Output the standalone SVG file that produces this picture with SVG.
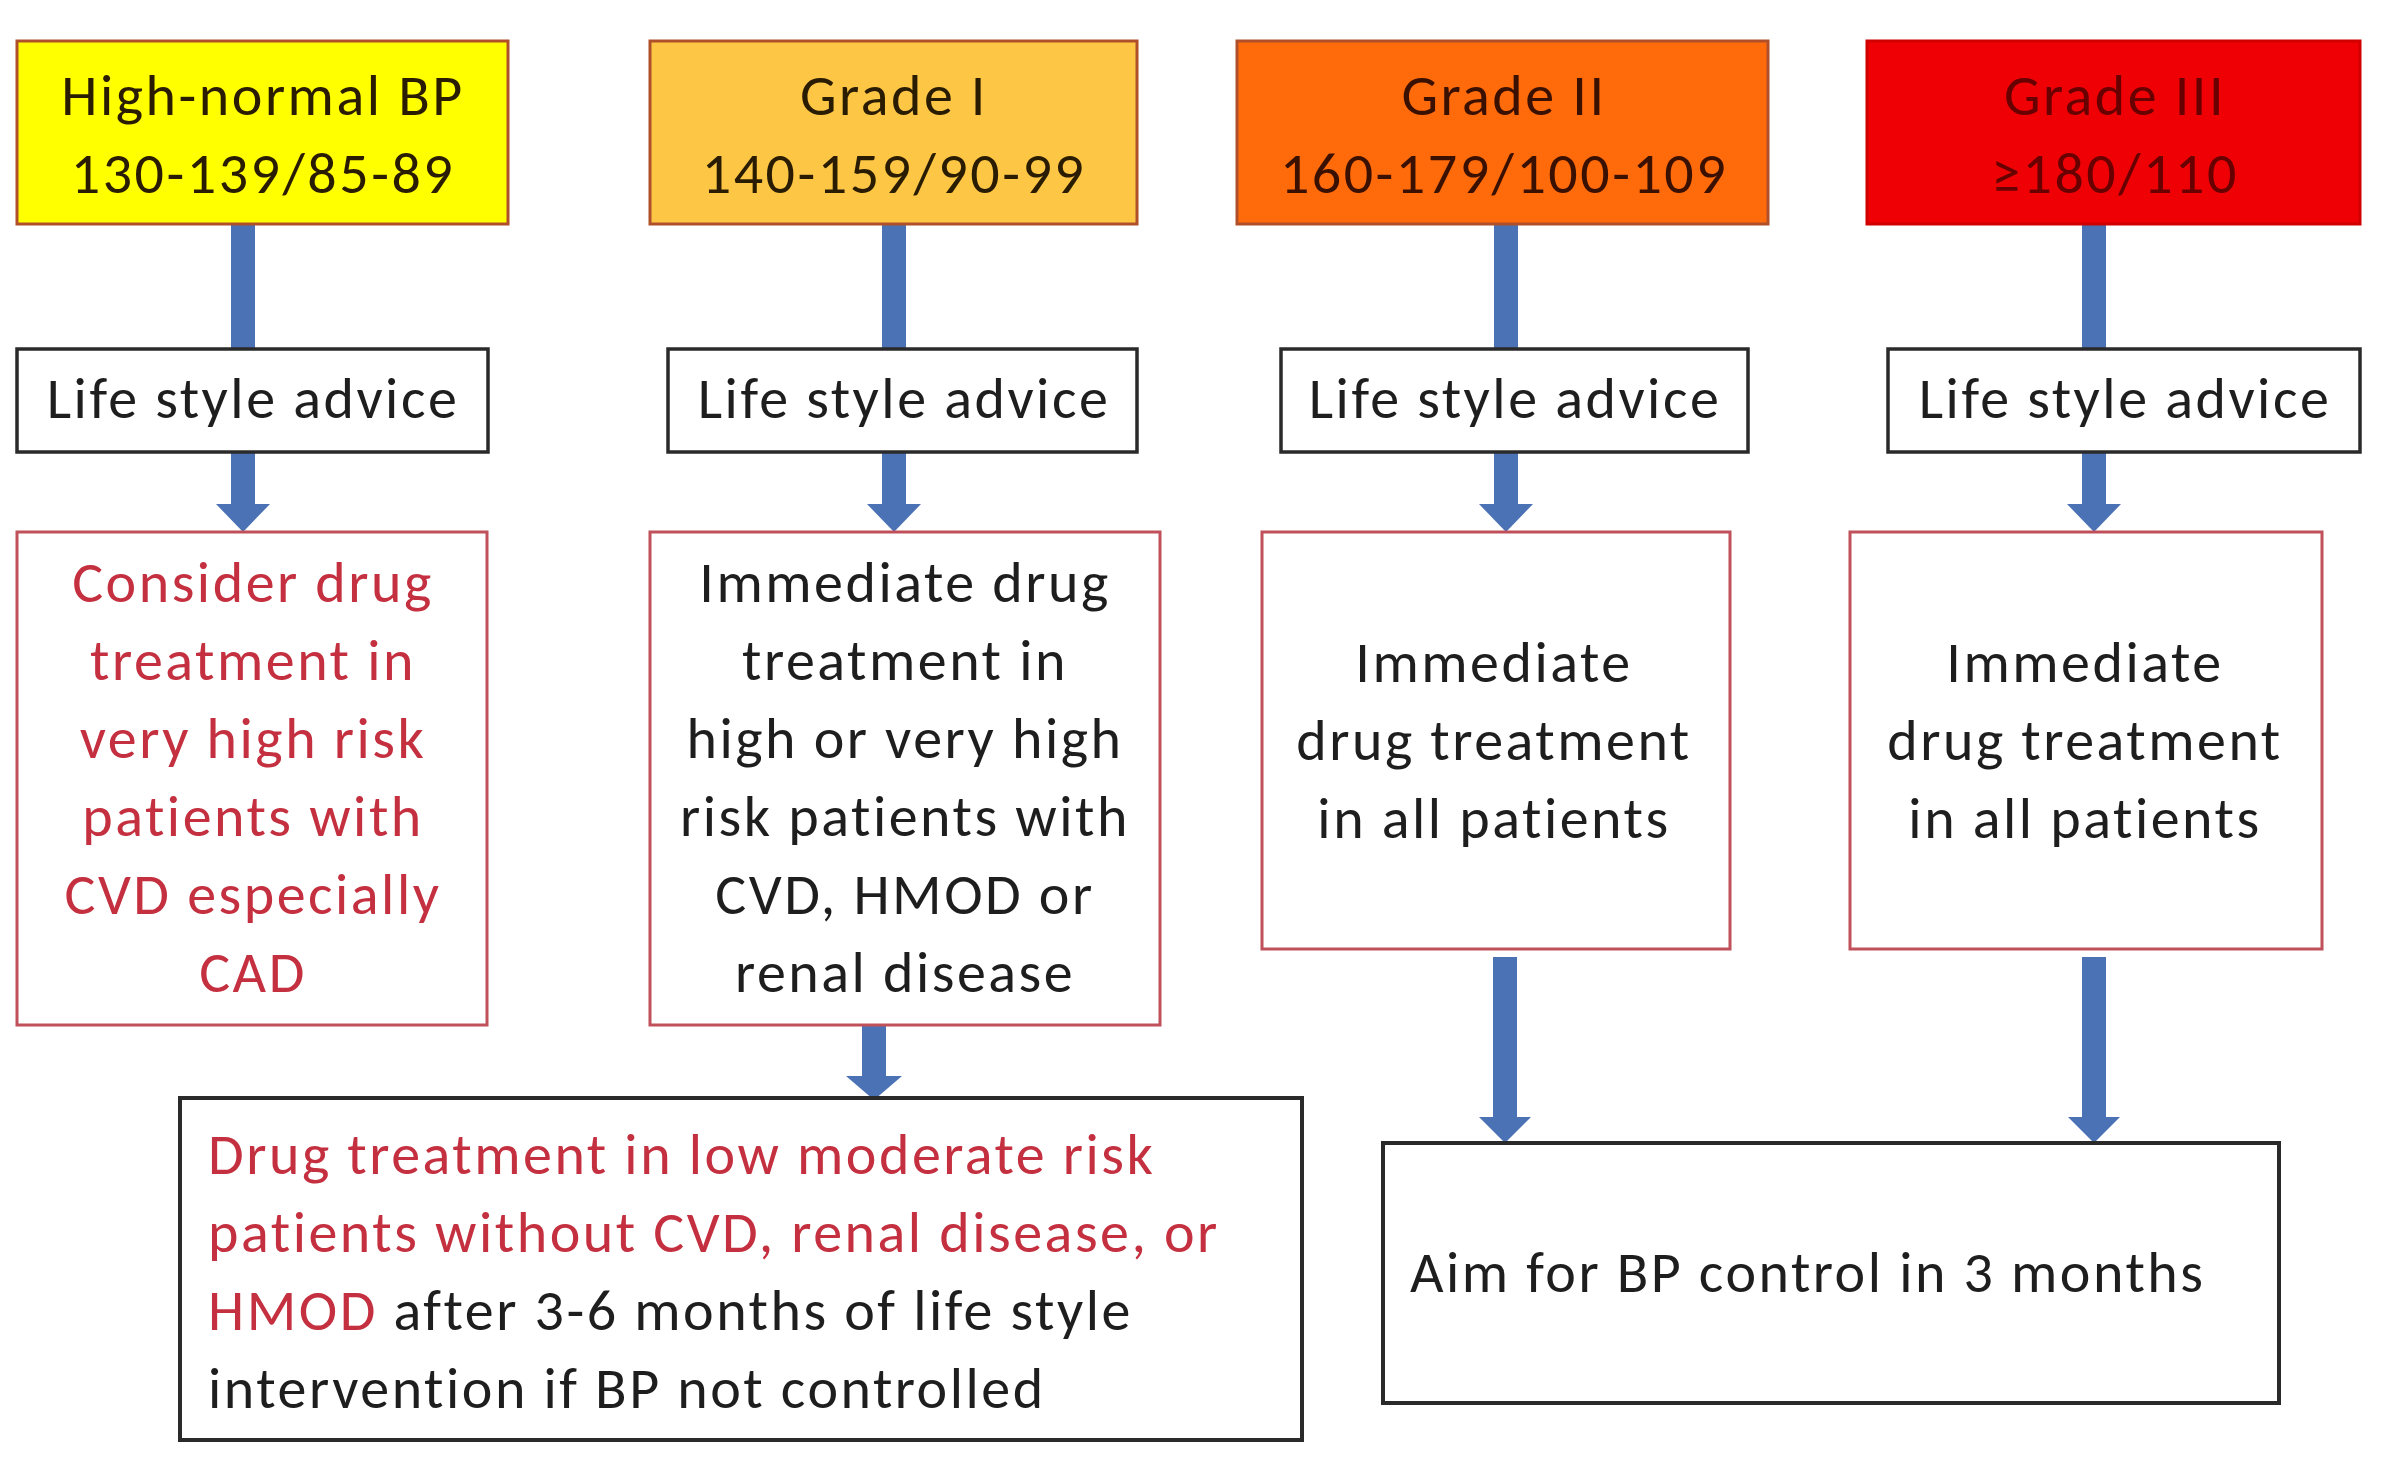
<svg xmlns="http://www.w3.org/2000/svg" width="2392" height="1460" viewBox="0 0 2392 1460">
<style>
text{font-family:Carlito,Lato,"Liberation Sans",sans-serif;font-size:58px;letter-spacing:2.5px;}
.c{text-anchor:middle;}
.dk{fill:#1e1e1e;}
.rd{fill:#C4303F;}
.top{stroke:#B0502A;stroke-width:3;}
.life{fill:#fff;stroke:#2a2a2a;stroke-width:3.5;}
.rbox{fill:#fff;stroke:#C0505A;stroke-width:3;}
.bbox{fill:#fff;stroke:#2a2a2a;stroke-width:4;}
.arr{fill:#4A72B5;}
</style>
<rect width="2392" height="1460" fill="#fff"/>
<g id="connectors">
<rect class="arr" x="231" y="224" width="24" height="126"/>
<rect class="arr" x="882" y="224" width="24" height="126"/>
<rect class="arr" x="1494" y="224" width="24" height="126"/>
<rect class="arr" x="2082" y="224" width="24" height="126"/>
<path class="arr" d="M231,452 H255 V504 H270 L243,532 L216,504 H231 Z"/>
<path class="arr" d="M882,452 H906 V504 H921 L894,532 L867,504 H882 Z"/>
<path class="arr" d="M1494,452 H1518 V504 H1533 L1506,532 L1479,504 H1494 Z"/>
<path class="arr" d="M2082,452 H2106 V504 H2121 L2094,532 L2067,504 H2082 Z"/>
<path class="arr" d="M862,1017 H886 V1076 H902 L874,1100 L846,1076 H862 Z"/>
<path class="arr" d="M1493,957 H1517 V1117 H1531 L1505,1143 L1479,1117 H1493 Z"/>
<path class="arr" d="M2082,957 H2106 V1117 H2120 L2094,1143 L2068,1117 H2082 Z"/>
</g>
<g id="n-highnormal">
<rect class="top" x="17" y="41" width="491" height="183" fill="#FFFF00"/>
<text class="c" x="263" y="115" fill="#2a1c00">High-normal BP</text>
<text class="c" x="263" y="193" fill="#2a1c00">130-139/85-89</text>
</g>
<g id="n-grade1">
<rect class="top" x="650" y="41" width="487" height="183" fill="#FDC745"/>
<text class="c" x="894" y="115" fill="#2a1c00">Grade I</text>
<text class="c" x="894" y="193" fill="#2a1c00">140-159/90-99</text>
</g>
<g id="n-grade2">
<rect class="top" x="1237" y="41" width="531" height="183" fill="#FF6A0A"/>
<text class="c" x="1504" y="115" fill="#3a1000">Grade II</text>
<text class="c" x="1504" y="193" fill="#3a1000">160-179/100-109</text>
</g>
<g id="n-grade3">
<rect x="1867" y="41" width="493" height="183" fill="#EE0005" stroke="#D00000" stroke-width="3"/>
<text class="c" x="2115" y="115" fill="#680000">Grade III</text>
<text class="c" x="2115" y="193" fill="#680000">≥180/110</text>
</g>
<g id="n-life1">
<rect class="life" x="17" y="349" width="471" height="103"/>
<text class="c dk" x="253" y="418">Life style advice</text>
</g>
<g id="n-life2">
<rect class="life" x="668" y="349" width="469" height="103"/>
<text class="c dk" x="904" y="418">Life style advice</text>
</g>
<g id="n-life3">
<rect class="life" x="1281" y="349" width="467" height="103"/>
<text class="c dk" x="1515" y="418">Life style advice</text>
</g>
<g id="n-life4">
<rect class="life" x="1888" y="349" width="472" height="103"/>
<text class="c dk" x="2125" y="418">Life style advice</text>
</g>
<g id="n-consider">
<rect class="rbox" x="17" y="532" width="470" height="493"/>
<text class="c rd" x="253" y="602">Consider drug</text>
<text class="c rd" x="253" y="680">treatment in</text>
<text class="c rd" x="253" y="758">very high risk</text>
<text class="c rd" x="253" y="836">patients with</text>
<text class="c rd" x="253" y="914">CVD especially</text>
<text class="c rd" x="253" y="992">CAD</text>
</g>
<g id="n-immediate1">
<rect class="rbox" x="650" y="532" width="510" height="493"/>
<text class="c dk" x="905" y="602">Immediate drug</text>
<text class="c dk" x="905" y="680">treatment in</text>
<text class="c dk" x="905" y="758">high or very high</text>
<text class="c dk" x="905" y="836">risk patients with</text>
<text class="c dk" x="905" y="914">CVD, HMOD or</text>
<text class="c dk" x="905" y="992">renal disease</text>
</g>
<g id="n-immediate2">
<rect class="rbox" x="1262" y="532" width="468" height="417"/>
<text class="c dk" x="1494" y="682">Immediate</text>
<text class="c dk" x="1494" y="760">drug treatment</text>
<text class="c dk" x="1494" y="838">in all patients</text>
</g>
<g id="n-immediate3">
<rect class="rbox" x="1850" y="532" width="472" height="417"/>
<text class="c dk" x="2085" y="682">Immediate</text>
<text class="c dk" x="2085" y="760">drug treatment</text>
<text class="c dk" x="2085" y="838">in all patients</text>
</g>
<g id="n-lowmoderate">
<rect class="bbox" x="180" y="1098" width="1122" height="342"/>
<text class="rd" x="208" y="1174">Drug treatment in low moderate risk</text>
<text class="rd" x="208" y="1252">patients without CVD, renal disease, or</text>
<text x="208" y="1330"><tspan class="rd">HMOD</tspan><tspan class="dk"> after 3-6 months of life style</tspan></text>
<text class="dk" x="208" y="1408">intervention if BP not controlled</text>
</g>
<g id="n-aim">
<rect class="bbox" x="1383" y="1143" width="896" height="260"/>
<text class="dk" x="1410" y="1292">Aim for BP control in 3 months</text>
</g>
</svg>
